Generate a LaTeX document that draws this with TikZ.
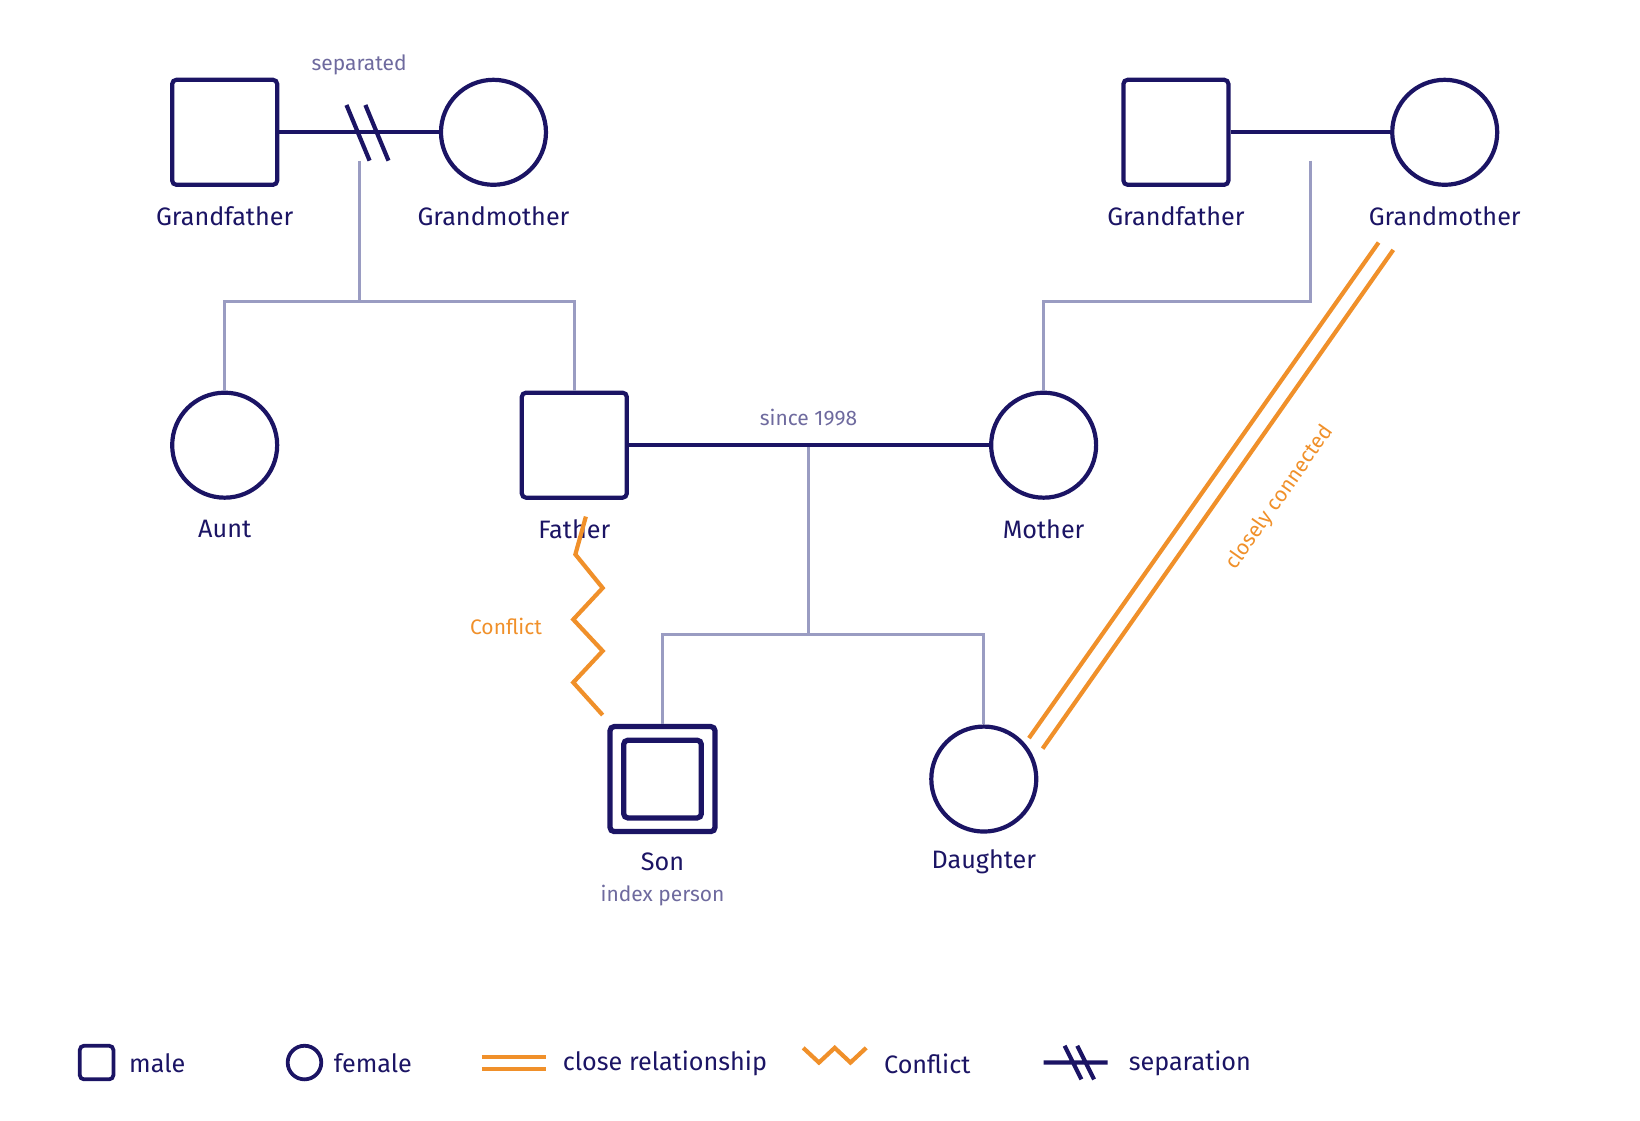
\documentclass[tikz,border=0pt]{standalone}
\usepackage{fontspec}
\setmainfont{Fira Sans}
\definecolor{navy}{HTML}{1B1464}
\definecolor{gry}{HTML}{9A9CC2}
\definecolor{org}{HTML}{F0902A}
\definecolor{lbl}{HTML}{6E6A9E}
\begin{document}
\begin{tikzpicture}[x=0.5pt,y=-0.5pt,
 male/.style={draw=navy,line width=2pt,rounded corners=2pt,minimum size=50pt,inner sep=0pt},
 female/.style={draw=navy,line width=2pt,circle,minimum size=50pt,inner sep=0pt},
 pname/.style={text=navy,font=\fontsize{12}{14}\selectfont},
 small/.style={text=lbl,font=\fontsize{10}{12}\selectfont},
 couple/.style={draw=navy,line width=2pt},
 kid/.style={draw=gry,line width=1.5pt},
 ol/.style={draw=org,line width=2pt}]
\useasboundingbox (0,0) rectangle (1562,1067);
\node[male] (gf1) at (214,126) {};
\node[female] (gm1) at (470,126) {};
\node[male] (gf2) at (1120,126) {};
\node[female] (gm2) at (1376,126) {};
\node[female] (aunt) at (214,424) {};
\node[male] (fa) at (547,424) {};
\node[female] (mo) at (994,424) {};
\node[male,line width=2.5pt] (son) at (631,742) {};
\node[male,line width=2.5pt,minimum size=37pt] (soni) at (631,742) {};
\node[female] (da) at (937,742) {};
\foreach \n/\t/\x/\y in {l1/Grandfather/214/206,l2/Grandmother/470/206,l3/Grandfather/1120/206,l4/Grandmother/1376/206,l5/Aunt/214/504,l6/Father/547/504,l7/Mother/994/504,l8/Son/631/821,l9/Daughter/937/821}
 \node[pname] (\n) at (\x,\y) {\t};
\node[small] (ip) at (631,853) {index person};
\node[small] (sep) at (342,62) {separated};
\node[small] (since) at (770,398) {since 1998};
% couples
\draw[couple] (gf1) -- (gm1);
\draw[couple] (gf2) -- (gm2);
\draw[couple] (fa) -- (mo);
\draw[couple] (330,100) -- (352,153) (348,100) -- (370,153);
% children
\coordinate (c1) at (342,153); \coordinate (c2) at (1248,153); \coordinate (c3) at (770,426);
\draw[kid] (c1) -- (342,287);
\draw[kid] (aunt.north) -- (214,287) -- (547,287) -- (fa.north);
\draw[kid] (c2) -- (1248,287) -- (994,287) -- (mo.north);
\draw[kid] (c3) -- (770,604);
\draw[kid] (son.north) -- (631,604) -- (937,604) -- (da.north);
% conflict
\coordinate (z0) at (558,492); \coordinate (z6) at (574,681);
\draw[ol,line join=miter] (z0) -- (548,528) -- (574,560) -- (546,590) -- (574,620) -- (546,650) -- (z6);
\node[text=org,font=\fontsize{10}{12}\selectfont] (cf) at (482,597) {Conflict};
% close
\coordinate (a1) at (1313,231); \coordinate (a2) at (980,703);
\coordinate (b1) at (1327,238); \coordinate (b2) at (993,713);
\draw[ol] (a1) -- (a2); \draw[ol] (b1) -- (b2);
\node[text=org,font=\fontsize{10}{12}\selectfont,rotate=54.8] (cc) at (1219,474) {closely connected};
% legend
\node[male,minimum size=16pt,line width=1.8pt] (lm) at (92,1012) {};
\node[pname,anchor=west] (lmt) at (116,1013) {male};
\node[female,minimum size=16pt,line width=1.8pt] (lf) at (290,1012) {};
\node[pname,anchor=west] (lft) at (311,1013) {female};
\coordinate (cr1) at (459,1007); \coordinate (cr2) at (520,1007);
\coordinate (cr3) at (459,1018); \coordinate (cr4) at (520,1018);
\draw[ol] (cr1) -- (cr2); \draw[ol] (cr3) -- (cr4);
\node[pname,anchor=west] (lct) at (529,1013) {close relationship};
\coordinate (q0) at (765,998); \coordinate (q4) at (825,998);
\draw[ol] (q0) -- (780,1012) -- (795,998) -- (810,1012) -- (q4);
\node[pname,anchor=west] (lqt) at (835,1013) {Conflict};
\coordinate (s0) at (994,1012); \coordinate (s1) at (1055,1012);
\draw[couple] (s0) -- (s1) (1014,996) -- (1030,1028) (1026,996) -- (1042,1028);
\node[pname,anchor=west] (lst) at (1068,1013) {separation};
\end{tikzpicture}
\end{document}
